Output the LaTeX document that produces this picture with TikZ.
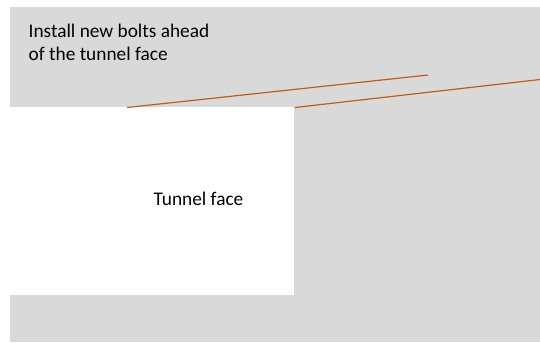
\documentclass[tikz,border=0pt]{standalone}
\usepackage{fontspec}
\setmainfont{Carlito}
\definecolor{bg}{HTML}{D9D9D9}
\definecolor{bolt}{HTML}{C55A11}
\begin{document}
\begin{tikzpicture}[x=1bp,y=-1bp,
  bolt/.style={draw=bolt,line width=1.2bp},
  lbl/.style={font=\fontsize{19.4}{22.5}\selectfont,inner sep=0pt}]
\useasboundingbox (0,0) rectangle (540,342);
\fill[bg] (10,7) rectangle (540,342);
\fill[white] (10,107) rectangle (294,295);
\coordinate (b1s) at (127,107.5);
\coordinate (b1e) at (428,75);
\coordinate (b2s) at (295,107.5);
\coordinate (b2e) at (540,79.5);
\draw[bolt] (b1s) -- (b1e);
\draw[bolt] (b2s) -- (b2e);
\node[lbl,anchor=base west,align=left] (note) at (28.5,60.2) {Install new bolts ahead\\of the tunnel face};
\node[lbl,anchor=base] (face) at (198.5,205) {Tunnel face};
\end{tikzpicture}
\end{document}
